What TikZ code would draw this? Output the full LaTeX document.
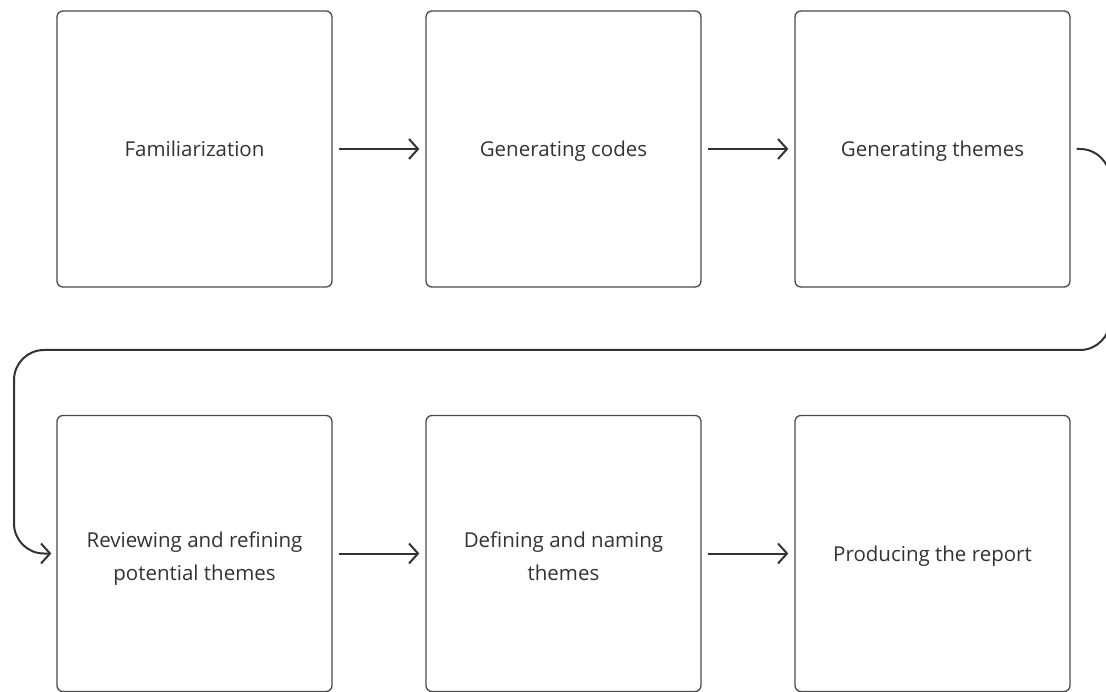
\documentclass[tikz,border=0pt]{standalone}
\usepackage{fontspec}
\setmainfont{Open Sans}
\usetikzlibrary{arrows.meta}
\definecolor{ink}{HTML}{333333}
\definecolor{edge}{HTML}{4A4A4A}
% props that give every label line the same height and depth
\newcommand{\tallprop}{\rule[-6pt]{0pt}{27.4pt}}
\newcommand{\lowprop}{\rule{0pt}{26pt}}
\tikzset{
  stage/.style={draw=edge, line width=1.3pt, rounded corners=6pt, fill=white,
    minimum width=275pt, minimum height=276pt, inner sep=0pt,
    text=ink, align=center, font=\fontsize{20.5}{33}\selectfont},
  flow/.style={draw=ink, line width=2pt,
    -{Straight Barb[length=9pt, width=20pt, line width=2pt]}},
}
\begin{document}
\begin{tikzpicture}[x=1pt, y=-1pt]
  \useasboundingbox (0,0) rectangle (1106,692);
  % top row
  \node[stage] (fam)  at (194.5,149) {\tallprop Familiarization};
  \node[stage] (codes) at (563.5,149) {\tallprop Generating codes};
  \node[stage] (gen)  at (932.5,149) {\tallprop Generating themes};
  % bottom row
  \node[stage] (rev)  at (194.5,553.5) {\lowprop Reviewing and refining\\potential themes\tallprop};
  \node[stage] (def)  at (563.5,553.5) {\lowprop Defining and naming\\themes\tallprop};
  \node[stage] (rep)  at (932.5,553.5) {\tallprop Producing the report};
  % arrows within rows
  \draw[flow] ([xshift=6pt]fam.east) -- ([xshift=-6pt]codes.west);
  \draw[flow] ([xshift=6pt]codes.east) -- ([xshift=-6pt]gen.west);
  \draw[flow] ([xshift=6pt]rev.east) -- ([xshift=-6pt]def.west);
  \draw[flow] ([xshift=6pt]def.east) -- ([xshift=-6pt]rep.west);
  % return line from the end of the top row to the start of the bottom row
  \coordinate (turnR) at (1110,350);
  \coordinate (turnL) at (14,350);
  \draw[flow, rounded corners=30pt]
    ([xshift=6pt]gen.east) -| (turnR) -- (turnL) |- ([xshift=-5pt]rev.west);
\end{tikzpicture}
\end{document}
